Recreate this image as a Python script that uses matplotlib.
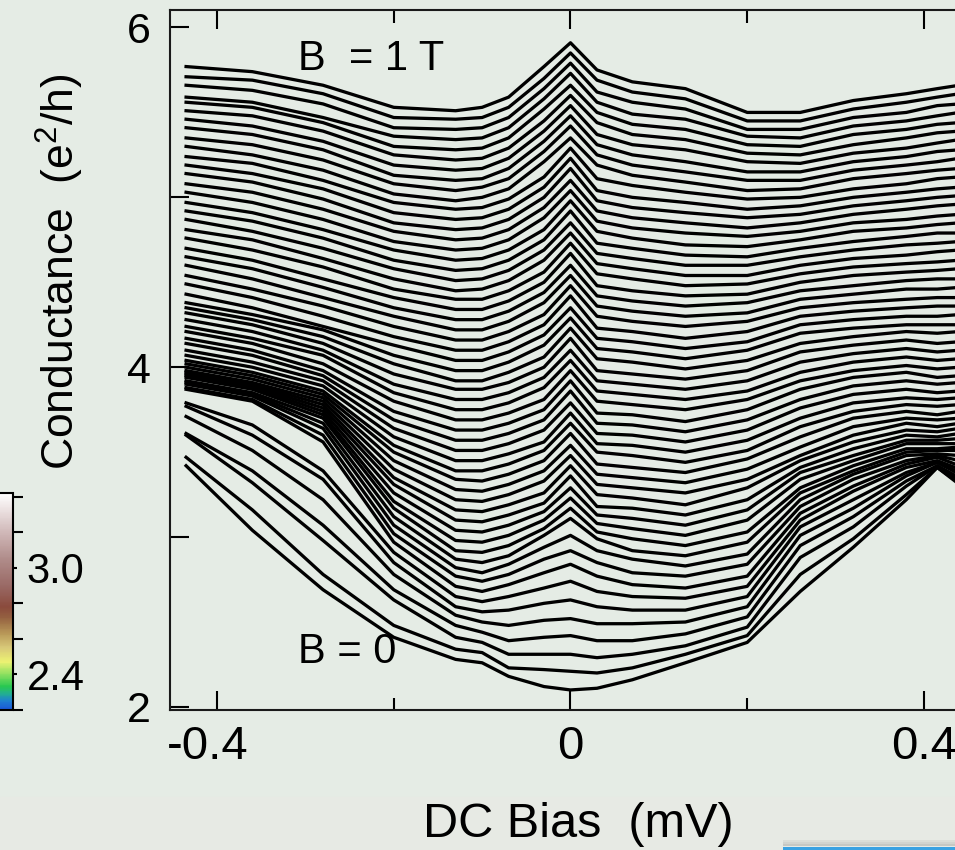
import numpy as np
import matplotlib.pyplot as plt
from matplotlib.colors import LinearSegmentedColormap, Normalize
from matplotlib.cm import ScalarMappable
from matplotlib.patches import Rectangle
from matplotlib.transforms import ScaledTranslation

plt.rcParams['font.family'] = ['Liberation Sans', 'DejaVu Sans']
plt.rcParams['mathtext.default'] = 'regular'

# ---- data: differential conductance (e^2/h) vs DC bias (mV) ----
# every list below holds the 56 traces, from B = 1 T (first) down to B = 0 (last)
bias = [-0.435, -0.36, -0.28, -0.20, -0.13, -0.10, -0.07, -0.03, 0.0,
        0.03, 0.07, 0.13, 0.20, 0.26, 0.32, 0.38, 0.415, 0.44]

g_m435 = [5.77, 5.71, 5.66, 5.59, 5.56, 5.51, 5.46, 5.41, 5.35, 5.30,
          5.24, 5.19, 5.14, 5.08, 5.03, 4.97, 4.92, 4.87, 4.81, 4.76,
          4.70, 4.65, 4.60, 4.54, 4.49, 4.43, 4.38, 4.35, 4.32, 4.28,
          4.24, 4.21, 4.17, 4.14, 4.10, 4.07, 4.04, 4.02, 4.00, 3.98,
          3.97, 3.96, 3.95, 3.94, 3.92, 3.91, 3.90, 3.88, 3.87, 3.79,
          3.77, 3.71, 3.61, 3.60, 3.47, 3.42]
g_m360 = [5.74, 5.69, 5.63, 5.56, 5.53, 5.48, 5.42, 5.37, 5.31, 5.25,
          5.20, 5.14, 5.09, 5.03, 4.97, 4.91, 4.86, 4.80, 4.75, 4.69,
          4.63, 4.58, 4.52, 4.46, 4.41, 4.35, 4.31, 4.28, 4.25, 4.21,
          4.17, 4.14, 4.10, 4.07, 4.03, 4.00, 3.97, 3.95, 3.93, 3.91,
          3.90, 3.89, 3.88, 3.87, 3.85, 3.84, 3.83, 3.81, 3.80, 3.66,
          3.60, 3.51, 3.39, 3.32, 3.16, 3.04]
g_m280 = [5.66, 5.61, 5.55, 5.47, 5.44, 5.39, 5.33, 5.28, 5.22, 5.16,
          5.10, 5.05, 4.99, 4.93, 4.87, 4.81, 4.76, 4.70, 4.64, 4.59,
          4.52, 4.47, 4.41, 4.36, 4.30, 4.24, 4.22, 4.18, 4.14, 4.10,
          4.07, 4.02, 3.98, 3.95, 3.92, 3.89, 3.86, 3.84, 3.82, 3.80,
          3.78, 3.76, 3.74, 3.72, 3.70, 3.67, 3.64, 3.60, 3.56, 3.39,
          3.34, 3.22, 3.07, 2.98, 2.78, 2.69]
g_m200 = [5.53, 5.47, 5.41, 5.36, 5.30, 5.25, 5.19, 5.13, 5.08, 5.02,
          4.97, 4.91, 4.85, 4.80, 4.74, 4.69, 4.63, 4.58, 4.52, 4.46,
          4.41, 4.35, 4.30, 4.24, 4.18, 4.13, 4.07, 4.02, 3.96, 3.90,
          3.85, 3.80, 3.74, 3.69, 3.64, 3.59, 3.54, 3.50, 3.45, 3.40,
          3.35, 3.31, 3.26, 3.21, 3.17, 3.12, 3.07, 3.02, 2.97, 2.91,
          2.85, 2.78, 2.69, 2.63, 2.48, 2.41]
g_m130 = [5.51, 5.46, 5.40, 5.34, 5.28, 5.22, 5.16, 5.10, 5.04, 4.98,
          4.93, 4.87, 4.81, 4.75, 4.69, 4.63, 4.57, 4.51, 4.45, 4.40,
          4.34, 4.28, 4.22, 4.16, 4.10, 4.04, 3.98, 3.92, 3.87, 3.81,
          3.75, 3.69, 3.63, 3.57, 3.51, 3.45, 3.39, 3.34, 3.28, 3.22,
          3.16, 3.10, 3.04, 2.98, 2.92, 2.87, 2.82, 2.77, 2.71, 2.65,
          2.59, 2.54, 2.48, 2.41, 2.34, 2.28]
g_m100 = [5.53, 5.47, 5.41, 5.35, 5.29, 5.23, 5.17, 5.11, 5.06, 5.00,
          4.94, 4.88, 4.82, 4.76, 4.70, 4.64, 4.58, 4.52, 4.46, 4.40,
          4.34, 4.28, 4.22, 4.16, 4.10, 4.04, 3.98, 3.92, 3.87, 3.81,
          3.75, 3.69, 3.63, 3.57, 3.51, 3.45, 3.39, 3.33, 3.27, 3.21,
          3.15, 3.09, 3.03, 2.97, 2.91, 2.85, 2.79, 2.74, 2.68, 2.62,
          2.56, 2.50, 2.44, 2.38, 2.32, 2.26]
g_m070 = [5.59, 5.53, 5.47, 5.41, 5.35, 5.29, 5.23, 5.17, 5.11, 5.05,
          4.99, 4.93, 4.87, 4.81, 4.75, 4.69, 4.63, 4.57, 4.51, 4.45,
          4.39, 4.33, 4.27, 4.21, 4.15, 4.09, 4.03, 3.97, 3.91, 3.85,
          3.79, 3.73, 3.67, 3.61, 3.55, 3.49, 3.43, 3.37, 3.31, 3.25,
          3.19, 3.13, 3.07, 3.01, 2.95, 2.89, 2.84, 2.78, 2.72, 2.65,
          2.57, 2.48, 2.39, 2.31, 2.23, 2.18]
g_m030 = [5.77, 5.70, 5.64, 5.58, 5.52, 5.45, 5.39, 5.33, 5.27, 5.21,
          5.12, 5.06, 5.00, 4.94, 4.88, 4.81, 4.75, 4.69, 4.63, 4.56,
          4.50, 4.44, 4.38, 4.31, 4.25, 4.19, 4.13, 4.06, 4.00, 3.94,
          3.88, 3.81, 3.75, 3.69, 3.63, 3.56, 3.51, 3.45, 3.39, 3.33,
          3.26, 3.20, 3.15, 3.10, 3.05, 3.01, 2.94, 2.87, 2.79, 2.70,
          2.61, 2.51, 2.41, 2.31, 2.22, 2.12]
g_000 = [5.91, 5.85, 5.79, 5.73, 5.66, 5.60, 5.54, 5.48, 5.42, 5.35,
         5.29, 5.23, 5.17, 5.10, 5.04, 4.98, 4.92, 4.85, 4.79, 4.73,
         4.67, 4.60, 4.54, 4.48, 4.42, 4.35, 4.29, 4.23, 4.17, 4.10,
         4.04, 3.98, 3.92, 3.86, 3.79, 3.73, 3.67, 3.61, 3.54, 3.48,
         3.42, 3.36, 3.29, 3.23, 3.17, 3.11, 3.01, 2.92, 2.84, 2.74,
         2.63, 2.52, 2.42, 2.31, 2.21, 2.10]
g_p030 = [5.75, 5.69, 5.62, 5.56, 5.50, 5.44, 5.37, 5.31, 5.25, 5.19,
          5.11, 5.04, 4.98, 4.92, 4.86, 4.80, 4.73, 4.67, 4.61, 4.55,
          4.48, 4.42, 4.36, 4.30, 4.23, 4.17, 4.11, 4.05, 3.98, 3.92,
          3.86, 3.80, 3.73, 3.67, 3.61, 3.55, 3.50, 3.43, 3.37, 3.31,
          3.25, 3.18, 3.13, 3.08, 3.03, 2.99, 2.92, 2.85, 2.77, 2.68,
          2.59, 2.49, 2.39, 2.29, 2.20, 2.11]
g_p070 = [5.68, 5.62, 5.56, 5.49, 5.43, 5.37, 5.31, 5.25, 5.19, 5.13,
          5.07, 5.00, 4.94, 4.88, 4.82, 4.76, 4.70, 4.64, 4.58, 4.52,
          4.45, 4.39, 4.33, 4.27, 4.21, 4.15, 4.09, 4.03, 3.96, 3.90,
          3.84, 3.78, 3.72, 3.66, 3.60, 3.54, 3.48, 3.41, 3.35, 3.29,
          3.23, 3.17, 3.11, 3.05, 2.99, 2.92, 2.87, 2.79, 2.72, 2.65,
          2.57, 2.49, 2.39, 2.31, 2.23, 2.16]
g_p130 = [5.64, 5.58, 5.52, 5.46, 5.40, 5.34, 5.28, 5.21, 5.15, 5.09,
          5.03, 4.97, 4.91, 4.85, 4.79, 4.72, 4.66, 4.60, 4.54, 4.48,
          4.42, 4.36, 4.30, 4.24, 4.17, 4.11, 4.05, 3.99, 3.93, 3.87,
          3.81, 3.75, 3.68, 3.62, 3.56, 3.50, 3.44, 3.38, 3.32, 3.26,
          3.19, 3.13, 3.07, 3.01, 2.95, 2.89, 2.83, 2.77, 2.70, 2.64,
          2.57, 2.50, 2.43, 2.36, 2.31, 2.26]
g_p200 = [5.50, 5.45, 5.40, 5.36, 5.31, 5.26, 5.21, 5.15, 5.10, 5.04,
          4.99, 4.93, 4.88, 4.82, 4.77, 4.71, 4.65, 4.60, 4.54, 4.49,
          4.43, 4.38, 4.32, 4.27, 4.21, 4.15, 4.10, 4.04, 3.98, 3.92,
          3.86, 3.81, 3.75, 3.69, 3.63, 3.57, 3.51, 3.46, 3.40, 3.34,
          3.29, 3.22, 3.16, 3.10, 3.03, 2.97, 2.90, 2.84, 2.77, 2.71,
          2.65, 2.59, 2.53, 2.47, 2.42, 2.38]
g_p260 = [5.50, 5.45, 5.40, 5.35, 5.30, 5.25, 5.20, 5.15, 5.10, 5.05,
          5.00, 4.95, 4.90, 4.85, 4.80, 4.75, 4.70, 4.65, 4.60, 4.55,
          4.50, 4.45, 4.40, 4.35, 4.30, 4.25, 4.20, 4.14, 4.09, 4.03,
          3.97, 3.92, 3.87, 3.81, 3.76, 3.70, 3.65, 3.59, 3.53, 3.48,
          3.45, 3.41, 3.38, 3.34, 3.29, 3.26, 3.22, 3.18, 3.14, 3.10,
          3.06, 3.01, 2.95, 2.88, 2.78, 2.68]
g_p320 = [5.57, 5.52, 5.47, 5.42, 5.37, 5.31, 5.26, 5.21, 5.16, 5.11,
          5.05, 5.00, 4.95, 4.90, 4.85, 4.80, 4.74, 4.69, 4.64, 4.59,
          4.54, 4.48, 4.43, 4.38, 4.33, 4.28, 4.23, 4.18, 4.13, 4.08,
          4.03, 3.98, 3.94, 3.89, 3.84, 3.79, 3.74, 3.70, 3.65, 3.60,
          3.56, 3.52, 3.48, 3.45, 3.42, 3.39, 3.37, 3.34, 3.30, 3.27,
          3.22, 3.17, 3.12, 3.06, 2.99, 2.94]
g_p380 = [5.61, 5.56, 5.50, 5.45, 5.40, 5.35, 5.29, 5.24, 5.19, 5.14,
          5.08, 5.03, 4.98, 4.93, 4.87, 4.82, 4.77, 4.72, 4.66, 4.61,
          4.56, 4.51, 4.46, 4.40, 4.35, 4.30, 4.25, 4.21, 4.16, 4.11,
          4.06, 4.01, 3.97, 3.92, 3.87, 3.82, 3.78, 3.74, 3.70, 3.67,
          3.63, 3.60, 3.57, 3.55, 3.52, 3.50, 3.48, 3.45, 3.43, 3.41,
          3.38, 3.36, 3.33, 3.30, 3.25, 3.22]
g_p415 = [5.64, 5.59, 5.54, 5.48, 5.43, 5.38, 5.32, 5.27, 5.21, 5.16,
          5.11, 5.05, 5.00, 4.95, 4.89, 4.84, 4.79, 4.73, 4.68, 4.62,
          4.57, 4.52, 4.46, 4.41, 4.36, 4.30, 4.25, 4.20, 4.14, 4.09,
          4.04, 3.99, 3.94, 3.90, 3.85, 3.81, 3.77, 3.72, 3.69, 3.65,
          3.62, 3.59, 3.57, 3.55, 3.52, 3.51, 3.49, 3.48, 3.47, 3.45,
          3.44, 3.44, 3.42, 3.42, 3.41, 3.41]
g_p440 = [5.66, 5.61, 5.55, 5.50, 5.44, 5.39, 5.34, 5.28, 5.23, 5.17,
          5.12, 5.06, 5.01, 4.96, 4.90, 4.85, 4.79, 4.74, 4.69, 4.63,
          4.58, 4.52, 4.47, 4.41, 4.36, 4.31, 4.25, 4.21, 4.15, 4.10,
          4.05, 4.00, 3.95, 3.91, 3.86, 3.82, 3.78, 3.74, 3.70, 3.67,
          3.64, 3.61, 3.58, 3.55, 3.53, 3.51, 3.48, 3.45, 3.42, 3.40,
          3.38, 3.37, 3.35, 3.34, 3.32, 3.31]

# colour scale (conductance) drawn at the left edge
cbar_range = (2.2, 3.42)
cbar_major = [2.4, 3.0]
cbar_minor = [2.2, 2.6, 2.8, 3.2, 3.4]

traces = np.column_stack([g_m435, g_m360, g_m280, g_m200, g_m130, g_m100,
                          g_m070, g_m030, g_000, g_p030, g_p070, g_p130,
                          g_p200, g_p260, g_p320, g_p380, g_p415, g_p440])

# ---- figure ----
W, H = 955, 850
bg = '#e5ece5'


def box(x0, y0, x1, y1):
    # pixel rectangle (top-left origin) -> figure fraction
    return [x0 / W, 1 - y1 / H, (x1 - x0) / W, (y1 - y0) / H]


fig = plt.figure(figsize=(W / 100, H / 100), dpi=100, facecolor=bg)
fig.patches.append(Rectangle((0, 0), 1, 53 / H, transform=fig.transFigure,
                             color='#e7eae4', zorder=-5))
for i, a in enumerate([0.05, 0.09, 0.14]):
    fig.patches.append(Rectangle((783 / W, (3 + 5 - 2 * i) / H), 1, 2 / H,
                                 transform=fig.transFigure, color='k',
                                 alpha=a, lw=0, zorder=-4))
fig.patches.append(Rectangle((783 / W, 0), 1, 3 / H, transform=fig.transFigure,
                             color='#3aa2e2', lw=0, zorder=-3))

ax = fig.add_axes(box(170, 10, 977, 710))
ax.set_facecolor(bg)
for row in traces:
    ax.plot(bias, row, color='black', lw=2.35, solid_joinstyle='round')

ax.set_xlim(-0.4532, 0.46)
ax.set_ylim(1.982, 6.103)
for s in ax.spines.values():
    s.set_linewidth(1.5)
    s.set_color('#1a1a1a')

ax.set_xticks([-0.4, 0, 0.4])
ax.set_xticklabels(['-0.4', '0', '0.4'])
ax.set_xticks([-0.2, 0.2], minor=True)
ax.set_yticks([2, 4, 6])
ax.set_yticks([3, 5], minor=True)
ax.tick_params(axis='x', which='major', direction='in', length=14, width=1.5,
               top=True, labelsize=34, pad=11)
ax.tick_params(axis='x', which='minor', direction='in', length=9, width=1.5,
               top=True)
ax.tick_params(axis='y', which='both', direction='in', length=14, width=1.5,
               right=False, labelsize=31, pad=14)
# the "-0.4" label sits a little left of its tick
lab = ax.xaxis.get_major_ticks()[0].label1
lab.set_transform(lab.get_transform()
                  + ScaledTranslation(-0.09, 0, fig.dpi_scale_trans))

ax.text(-0.308, 5.749, 'B  = 1 T', fontsize=30, ha='left', va='baseline')
ax.text(-0.308, 2.259, 'B = 0', fontsize=30, ha='left', va='baseline')

fig.text(60 / W, 1 - 272 / H, 'Conductance  (e$^2$/h)', rotation=90,
         ha='center', va='center', fontsize=32)
fig.text(578 / W, 1 - 837 / H, 'DC Bias  (mV)', ha='center',
         va='baseline', fontsize=35)

# ---- colour bar ----
cmap = LinearSegmentedColormap.from_list('cond', [
    (0.000, '#1a56d8'), (0.041, '#1e80d0'), (0.074, '#22b090'),
    (0.107, '#28c850'), (0.164, '#8ee060'), (0.221, '#ecf272'),
    (0.287, '#d8c878'), (0.352, '#b89858'), (0.426, '#946040'),
    (0.475, '#8a4a3c'), (0.574, '#9a6a66'), (0.697, '#b08c8a'),
    (0.820, '#d0b8b8'), (0.926, '#ece2e2'), (1.000, '#ffffff')])
cax = fig.add_axes(box(-40, 493, 13, 710))
cb = fig.colorbar(ScalarMappable(norm=Normalize(*cbar_range), cmap=cmap),
                  cax=cax)
cb.set_ticks(cbar_major)
cb.set_ticklabels(['2.4', '3.0'])
cb.set_ticks(cbar_minor, minor=True)
cb.outline.set_linewidth(1.5)
cax.tick_params(which='major', length=3, width=1.5, labelsize=30, pad=7)
cax.tick_params(which='minor', length=7, width=1.5)

fig.savefig('out.png', dpi=100, facecolor=bg)
